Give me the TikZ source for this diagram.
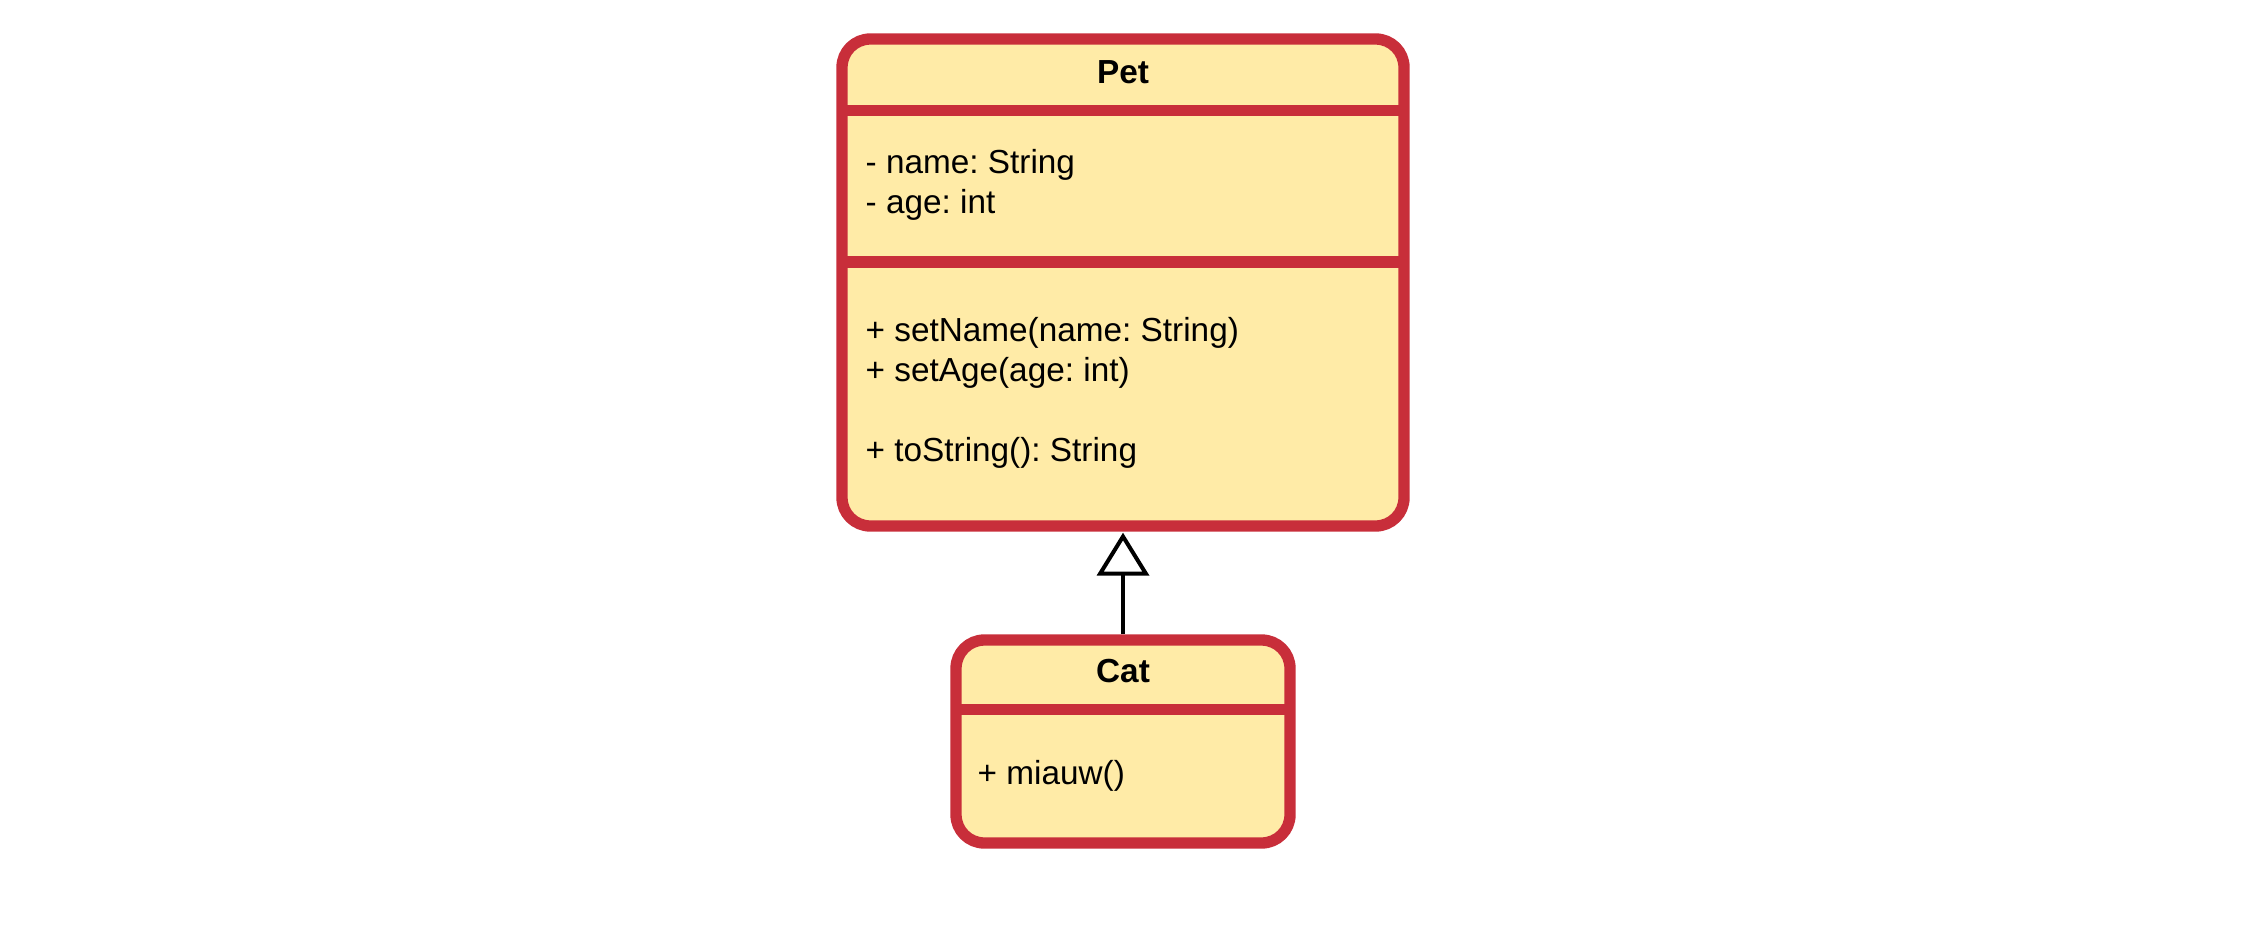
\documentclass[tikz,border=0pt]{standalone}
\usepackage{fontspec}
\setmainfont{Liberation Sans}
\usetikzlibrary{arrows.meta}
\definecolor{classred}{RGB}{200,46,58}
\definecolor{classfill}{RGB}{255,235,167}

\begin{document}
\begin{tikzpicture}[x=0.3pt,y=-0.3pt,
  classbox/.style={draw=classred,fill=classfill,line width=3.4pt,rounded corners=8.5pt,outer sep=0pt,inner sep=0pt},
  divider/.style={draw=classred,line width=3.4pt},
  title/.style={font=\bfseries\fontsize{10}{12}\selectfont,anchor=base,inner sep=0pt},
  members/.style={font=\fontsize{10}{12}\selectfont\frenchspacing,align=left,anchor=base west,inner sep=0pt},
  inherit/.style={line width=1.2pt,-{Triangle[open,length=12.9pt,width=15.6pt]}}]
  \useasboundingbox (0,0) rectangle (2243,930);

  \node[classbox,minimum width=168.6pt,minimum height=146.1pt] (pet) at (1123,282.5) {};
  \draw[divider] ([yshift=-21.4pt]pet.north west) -- ([yshift=-21.4pt]pet.north east);
  \draw[divider] ([yshift=-66.9pt]pet.north west) -- ([yshift=-66.9pt]pet.north east);
  \node[title] (pettitle) at ([yshift=-13.2pt]pet.north) {Pet};
  \node[members] (petattrs) at ([xshift=6.9pt,yshift=-52.3pt]pet.north west) {- name: String\\- age: int};
  \node[members] (petops) at ([xshift=6.9pt,yshift=-126.7pt]pet.north west) {+ setName(name: String)\\+ setAge(age: int)\\[12pt]+ toString(): String};

  \node[classbox,minimum width=100.2pt,minimum height=60.9pt] (cat) at (1123,741.5) {};
  \draw[divider] ([yshift=-20.85pt]cat.north west) -- ([yshift=-20.85pt]cat.north east);
  \node[title] (cattitle) at ([yshift=-12.6pt]cat.north) {Cat};
  \node[members] (catops) at ([xshift=6.3pt,yshift=-43.2pt]cat.north west) {+ miauw()};

  \draw[inherit,shorten <=1.7pt,shorten >=2pt] (cat.north) -- (pet.south);
\end{tikzpicture}
\end{document}
